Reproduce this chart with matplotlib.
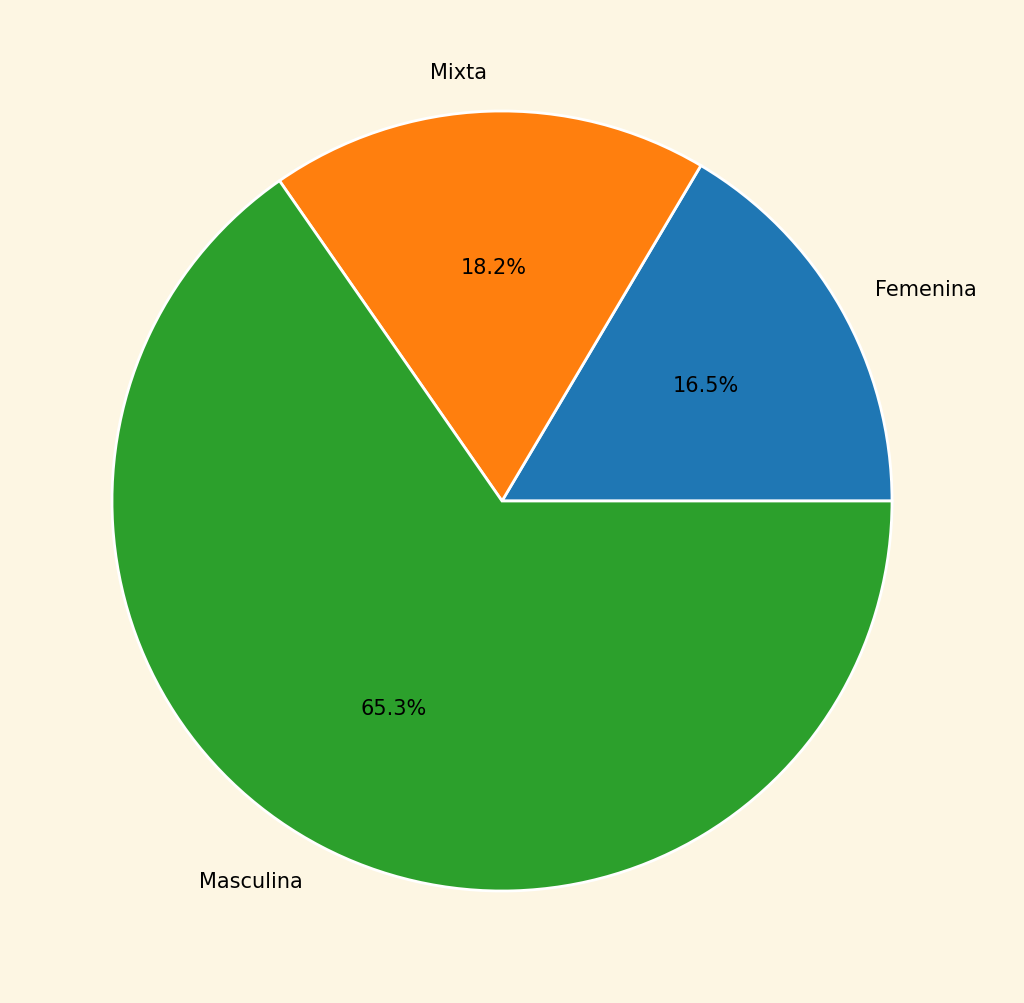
import matplotlib
matplotlib.use("Agg")
import matplotlib.pyplot as plt

labels = ["Femenina", "Mixta", "Masculina"]
values = [16.5, 18.2, 65.4]
colors = ["#1f77b4", "#ff7f0e", "#2ca02c"]

bg = "#fdf6e3"
fig = plt.figure(figsize=(10.24, 10.04), dpi=100, facecolor=bg)
ax = fig.add_axes([14.5/1024, 14.5/1004, 975/1024, 975/1004])
ax.set_facecolor(bg)
ax.pie(values, labels=labels, colors=colors, autopct="%1.1f%%",
       wedgeprops=dict(edgecolor="white", linewidth=2),
       textprops=dict(fontsize=15))
ax.set_xlim(-1.25, 1.25)
ax.set_ylim(-1.25, 1.25)
ax.set_aspect("equal")
fig.savefig("out.png", dpi=100, facecolor=bg)
